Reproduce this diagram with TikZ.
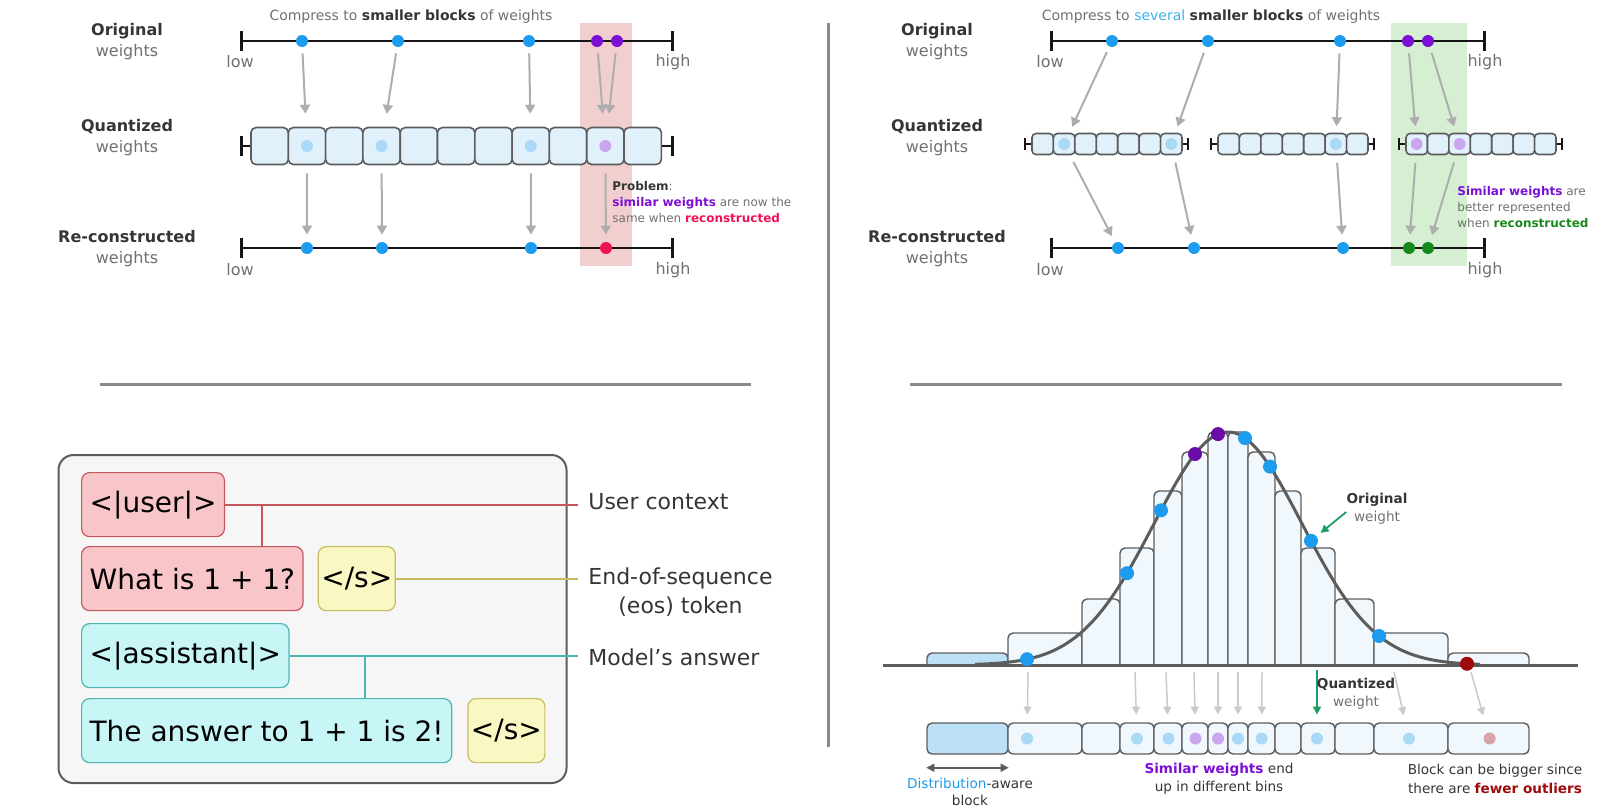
\documentclass[tikz,border=0pt]{standalone}
\usepackage{fontspec}
\setmainfont{DejaVu Sans}
\usepackage{xcolor}
\definecolor{q-ink}{HTML}{353535}
\definecolor{q-gray}{HTML}{707070}
\definecolor{q-line}{HTML}{151515}
\definecolor{q-arrow}{HTML}{ADADAD}
\definecolor{q-soft}{HTML}{CACACA}
\definecolor{q-blue}{HTML}{1C9BEF}
\definecolor{q-lblue}{HTML}{A9D9F6}
\definecolor{q-cell}{HTML}{E1F1FB}
\definecolor{q-pale}{HTML}{F1F8FD}
\definecolor{q-binblue}{HTML}{BCE1F6}
\definecolor{q-purple}{HTML}{7B0FD6}
\definecolor{q-lpurple}{HTML}{CBA6EE}
\definecolor{q-dpurple}{HTML}{6B0CA8}
\definecolor{q-pink}{HTML}{EE1256}
\definecolor{q-redbox}{HTML}{F2CFCF}
\definecolor{q-greenbox}{HTML}{D6EFD3}
\definecolor{q-green}{HTML}{17881B}
\definecolor{q-teal}{HTML}{1E9E62}
\definecolor{q-sky}{HTML}{3DB2EA}
\definecolor{q-dred}{HTML}{9E0A0A}
\definecolor{q-lred}{HTML}{D9A3AA}
\definecolor{q-border}{HTML}{5C5C5C}
\definecolor{q-divider}{HTML}{8A8A8A}
\definecolor{tok-red}{HTML}{F8C5C8}
\definecolor{tok-redline}{HTML}{C4575E}
\definecolor{tok-yellow}{HTML}{FAF8C2}
\definecolor{tok-yellowline}{HTML}{C6BE5C}
\definecolor{tok-cyan}{HTML}{C8F6F6}
\definecolor{tok-cyanline}{HTML}{4DB6B2}
\definecolor{tok-panel}{HTML}{F6F6F6}
\usepackage{tikz}
\usetikzlibrary{arrows.meta,positioning,calc}

\tikzset{
  wdot/.style={circle, inner sep=0pt, minimum size=6pt},
  hdot/.style={circle, inner sep=0pt, minimum size=7pt},
  qcell/.style={draw=q-border, fill=q-cell, line width=0.8pt, rounded corners=2.5pt, inner sep=0pt},
  gray arrow/.style={draw=q-arrow, line width=1pt, -{Triangle[width=5pt,length=4.5pt]}},
  soft arrow/.style={draw=q-soft, line width=0.75pt, -{Triangle[width=4pt,length=4pt]}},
  teal arrow/.style={draw=q-teal, line width=0.9pt, -{Triangle[width=4pt,length=4pt]}},
  wline/.style={draw=q-line, line width=1pt},
  wtick/.style={draw=q-line, line width=1.5pt},
  sidetext/.style={align=center, font=\fontsize{8}{10.5}\selectfont, text=q-gray},
  endtext/.style={font=\fontsize{8}{10}\selectfont, text=q-gray, inner sep=0pt},
  notetext/.style={align=left, font=\fontsize{6}{8.2}\selectfont, text=q-gray, inner sep=0pt},
  tokenbox/.style={rounded corners=4pt, line width=0.6pt, inner xsep=4pt, minimum height=32pt, font=\fontsize{14}{16}\selectfont, text=black},
  eosbox/.style={tokenbox, fill=tok-yellow, draw=tok-yellowline, inner xsep=1.5pt},
  legendtext/.style={align=center, font=\fontsize{11}{14.5}\selectfont, text=q-ink, inner sep=0pt},
  binbox/.style={draw=q-border, line width=0.7pt, rounded corners=2.5pt, inner sep=0pt, minimum height=15.5pt},
  binbar/.style={draw=q-border, line width=0.7pt, rounded corners=2.5pt},
  smalltext/.style={align=center, font=\fontsize{6.8}{9.2}\selectfont, text=q-ink, inner sep=0pt},
  divider/.style={draw=q-divider, line width=1.5pt}
}

\begin{document}
\begin{tikzpicture}[x=0.5pt, y=-0.5pt]
\useasboundingbox (0,0) rectangle (1609,811);

    % Highlights
    \fill[q-redbox] (580,23) rectangle (632,266);
    \fill[q-greenbox] (1391,23) rectangle (1467,266);

    % Dividers
    \draw[divider] (828,23) -- (828,747);
    \draw[divider] (100,384) -- (751,384);
    \draw[divider] (910,384) -- (1562,384);

    % ---------------- Top left: one block
    \node[font=\fontsize{7}{8}\selectfont, text=q-gray] (tltitle) at (411,17) {Compress to \textbf{\textcolor{q-ink}{smaller blocks}} of weights};
    \node[sidetext] (tlorig) at (127,41.5) {\textbf{\textcolor{q-ink}{Original}}\\weights};
    \node[sidetext] (tlquant) at (127,137.5) {\textbf{\textcolor{q-ink}{Quantized}}\\weights};
    \node[sidetext] (tlrec) at (127,249) {\textbf{\textcolor{q-ink}{Re-constructed}}\\weights};

    % Original line
    \draw[wline] (241,41) -- (672,41);
    \draw[wtick] (241,31) -- (241,51);
    \draw[wtick] (672,31) -- (672,51);
    \node[endtext] at (240,62) {low};
    \node[endtext] at (673,62) {high};
    \foreach \x/\c [count=\i] in {302/q-blue,398/q-blue,529/q-blue,597/q-purple,617/q-purple}
        \node[wdot, fill=\c] (tlo\i) at (\x,41) {};

    % Quantized cells
    \draw[wtick] (241,136) -- (241,156);
    \draw[wtick] (672,136) -- (672,156);
    \foreach \i in {1,...,11}
        \node[qcell, minimum width=18.65pt, minimum height=18.5pt] (tlq\i) at ({251+37.3*(\i-0.5)},146) {};
    \draw[wline] (241,146) -- (tlq1.west);
    \draw[wline] (tlq11.east) -- (672,146);
    \foreach \i/\c in {2/q-lblue,4/q-lblue,8/q-lblue,10/q-lpurple}
        \node[wdot, fill=\c] (tld\i) at (tlq\i) {};

    % Reconstructed line
    \draw[wline] (241,248) -- (672,248);
    \draw[wtick] (241,238) -- (241,258);
    \draw[wtick] (672,238) -- (672,258);
    \node[endtext] at (240,270) {low};
    \node[endtext] at (673,270) {high};
    \foreach \x/\c [count=\i] in {307/q-blue,382/q-blue,531/q-blue,606/q-pink}
        \node[wdot, fill=\c] (tlr\i) at (\x,248) {};

    % Arrows
    \foreach \a/\b in {tlo1/tlq2,tlo2/tlq4,tlo3/tlq8,tlo4/tlq10,tlo5/tlq10}
        \draw[gray arrow, shorten <=3pt, shorten >=6.5pt] (\a) -- (\b);
    \foreach \a/\b in {tlq2/tlr1,tlq4/tlr2,tlq8/tlr3,tlq10/tlr4}
        \draw[gray arrow, shorten <=4pt, shorten >=3.5pt] (\a) -- (\b);

    \node[notetext, anchor=west] (tlnote) at (612,202) {\textbf{\textcolor{q-ink}{Problem}}:\\\textbf{\textcolor{q-purple}{similar weights}} are now the\\same when \textbf{\textcolor{q-pink}{reconstructed}}};

    % ---------------- Top right: several blocks
    \node[font=\fontsize{7}{8}\selectfont, text=q-gray] (trtitle) at (1211,17) {Compress to \textcolor{q-sky}{several} \textbf{\textcolor{q-ink}{smaller blocks}} of weights};
    \node[sidetext] (trorig) at (937,41.5) {\textbf{\textcolor{q-ink}{Original}}\\weights};
    \node[sidetext] (trquant) at (937,137.5) {\textbf{\textcolor{q-ink}{Quantized}}\\weights};
    \node[sidetext] (trrec) at (937,249) {\textbf{\textcolor{q-ink}{Re-constructed}}\\weights};

    % Original line
    \draw[wline] (1051,41) -- (1484,41);
    \draw[wtick] (1051,31) -- (1051,51);
    \draw[wtick] (1484,31) -- (1484,51);
    \node[endtext] at (1050,62) {low};
    \node[endtext] at (1485,62) {high};
    \foreach \x/\c [count=\i] in {1112/q-blue,1208/q-blue,1340/q-blue,1408/q-purple,1428/q-purple}
        \node[wdot, fill=\c] (tro\i) at (\x,41) {};

    % Quantized blocks
    \foreach \s [count=\b] in {1032,1218,1406} {
        \foreach \i in {1,...,7}
            \node[qcell, minimum width=10.72pt, minimum height=10.5pt, rounded corners=2pt] (trq\b-\i) at ({\s+21.43*(\i-0.5)},144) {};
        \draw[wtick, line width=1.2pt] ({\s-7},138) -- ({\s-7},150);
        \draw[wtick, line width=1.2pt] ({\s+156},138) -- ({\s+156},150);
        \draw[wline] ({\s-7},144) -- (trq\b-1.west);
        \draw[wline] (trq\b-7.east) -- ({\s+156},144);
    }
    \foreach \n/\c [count=\i] in {trq1-2/q-lblue,trq1-7/q-lblue,trq2-6/q-lblue,trq3-1/q-lpurple,trq3-3/q-lpurple}
        \node[wdot, fill=\c] (trd\i) at (\n) {};

    % Reconstructed line
    \draw[wline] (1051,248) -- (1484,248);
    \draw[wtick] (1051,238) -- (1051,258);
    \draw[wtick] (1484,238) -- (1484,258);
    \node[endtext] at (1050,270) {low};
    \node[endtext] at (1485,270) {high};
    \foreach \x/\c [count=\i] in {1118/q-blue,1194/q-blue,1343/q-blue,1409/q-green,1428/q-green}
        \node[wdot, fill=\c] (trr\i) at (\x,248) {};

    % Arrows
    \foreach \a/\b in {tro1/trq1-2,tro2/trq1-7,tro3/trq2-6,tro4/trq3-1,tro5/trq3-3}
        \draw[gray arrow, shorten <=3pt, shorten >=3.25pt] (\a) -- (\b);
    \foreach \a/\b in {trq1-2/trr1,trq1-7/trr2,trq2-6/trr3,trq3-1/trr4,trq3-3/trr5}
        \draw[gray arrow, shorten <=3.75pt, shorten >=3.5pt] (\a) -- (\b);

    \node[notetext, anchor=west] (trnote) at (1457,207) {\textbf{\textcolor{q-purple}{Similar weights}} are\\better represented\\when \textbf{\textcolor{q-green}{reconstructed}}};

    % ---------------- Bottom left: chat template
    \draw[fill=tok-panel, draw=q-border, line width=1pt, rounded corners=7.5pt] (58.5,455) rectangle (566.5,783);

    \node[tokenbox, fill=tok-red, draw=tok-redline, anchor=north west] (user) at (81,472) {<|user|>};
    \node[tokenbox, fill=tok-red, draw=tok-redline, anchor=north west] (question) at (81,546) {What is 1 + 1?};
    \node[eosbox, right=7pt of question] (eosA) {</s>};
    \node[tokenbox, fill=tok-cyan, draw=tok-cyanline, anchor=north west] (assistant) at (81,623) {<|assistant|>};
    \node[tokenbox, fill=tok-cyan, draw=tok-cyanline, anchor=north west] (answer) at (81,698) {The answer to 1 + 1 is 2!};
    \node[eosbox, right=7.5pt of answer] (eosB) {</s>};

    \node[legendtext, anchor=west] (ctxlbl) at (588,502) {User context};
    \node[legendtext, anchor=west] (eoslbl) at (588,592.5) {End-of-sequence\\(eos) token};
    \node[legendtext, anchor=west] (anslbl) at (588,657) {Model’s answer};

    % Connectors
    \coordinate (userjoin) at ($(user.east)+(37,0)$);
    \coordinate (asstjoin) at ($(assistant.east)+(75,0)$);
    \draw[tok-redline, line width=1pt, shorten >=5pt] (user.east) -- (user.east -| ctxlbl.west);
    \draw[tok-redline, line width=1pt] (userjoin) -- (userjoin |- question.north);
    \draw[tok-yellowline, line width=1pt, shorten >=5pt] (eosA.east) -- (eosA.east -| eoslbl.west);
    \draw[tok-cyanline, line width=1pt, shorten >=5pt] (assistant.east) -- (assistant.east -| anslbl.west);
    \draw[tok-cyanline, line width=1pt] (asstjoin) -- (asstjoin |- answer.north);

    % ---------------- Bottom right: distribution-aware blocks
    \foreach \l/\r/\t/\f in {927/1008/653/q-binblue,1008/1082/633/q-pale,1082/1120/599/q-pale,1120/1154/548/q-pale,1154/1182/491/q-pale,1182/1208/452/q-pale,1208/1228/432/q-pale,1228/1248/432/q-pale,1248/1275/452/q-pale,1275/1301/491/q-pale,1301/1335/548/q-pale,1335/1374/599/q-pale,1374/1448/633/q-pale,1448/1529/653/q-pale}
        \draw[binbar, fill=\f] (\l,665) -- (\l,\t) -- (\r,\t) -- (\r,665);
    \draw[q-border, line width=1.5pt] (883,665) -- (1578,665);
    \draw[q-border, line width=1.5pt] plot[domain=975:1480, samples=120, smooth] (\x,{665-233*exp(-0.5*((\x-1228)/74)^2)});
    \foreach \x/\c [count=\i] in {1027/q-blue,1127/q-blue,1161/q-blue,1195/q-dpurple,1218/q-dpurple,1245/q-blue,1270/q-blue,1311/q-blue,1379/q-blue,1467/q-dred}
        \node[hdot, fill=\c] (hw\i) at (\x,{665-233*exp(-0.5*((\x-1228)/74)^2)}) {};

    % Bins
    \foreach \l/\r/\f [count=\i] in {927/1008/q-binblue,1008/1082/q-pale,1082/1120/q-pale,1120/1154/q-pale,1154/1182/q-pale,1182/1208/q-pale,1208/1228/q-pale,1228/1248/q-pale,1248/1275/q-pale,1275/1301/q-pale,1301/1335/q-pale,1335/1374/q-pale,1374/1448/q-pale,1448/1529/q-pale} {
        \pgfmathsetmacro\w{(\r-\l)/2}
        \node[binbox, fill=\f, minimum width=\w pt] (bc\i) at ({(\l+\r)/2},738.5) {};
    }
    \foreach \x/\c [count=\i] in {1027/q-lblue,1137/q-lblue,1168.5/q-lblue,1195.5/q-lpurple,1218/q-lpurple,1238/q-lblue,1261.6/q-lblue,1317/q-lblue,1409/q-lblue,1489.6/q-lred}
        \node[wdot, fill=\c] (bd\i) at (\x,738.5) {};

    % Arrows down
    \foreach \x [count=\i] in {1028,1135,1166,1194,1218,1238,1262,1317,1394,1471}
        \coordinate (bs\i) at (\x,672);
    \foreach \i in {1,...,7,9,10}
        \draw[soft arrow, shorten >=8.75pt] (bs\i) -- (bd\i);
    \draw[teal arrow, shorten >=8.75pt] ([yshift=1pt]bs8) -- (bd8);

    % Labels
    \node[smalltext, text=q-gray] (owlbl) at (1377,509) {\textbf{\textcolor{q-ink}{Original}}\\weight};
    \draw[teal arrow, shorten >=2.5pt] ([yshift=-1.5pt]owlbl.west) -- (hw8);
    \node[smalltext, text=q-gray] (qwlbl) at (1356,694) {\textbf{\textcolor{q-ink}{Quantized}}\\weight};
    \draw[q-border, line width=0.9pt, {Triangle[width=4pt,length=4pt]}-{Triangle[width=4pt,length=4pt]}] ([yshift=-6.5pt]bc1.south west) -- ([yshift=-6.5pt]bc1.south east);
    \node[smalltext, font=\fontsize{6.8}{8.6}\selectfont] (distlbl) at (970,792) {\textcolor{q-blue}{Distribution}-aware\\block};
    \node[smalltext] (simlbl) at (1219,779) {\textbf{\textcolor{q-purple}{Similar weights}} end\\up in different bins};
    \node[smalltext] (biglbl) at (1495,779) {Block can be bigger since\\there are \textbf{\textcolor{q-dred}{fewer outliers}}};

\end{tikzpicture}
\end{document}
